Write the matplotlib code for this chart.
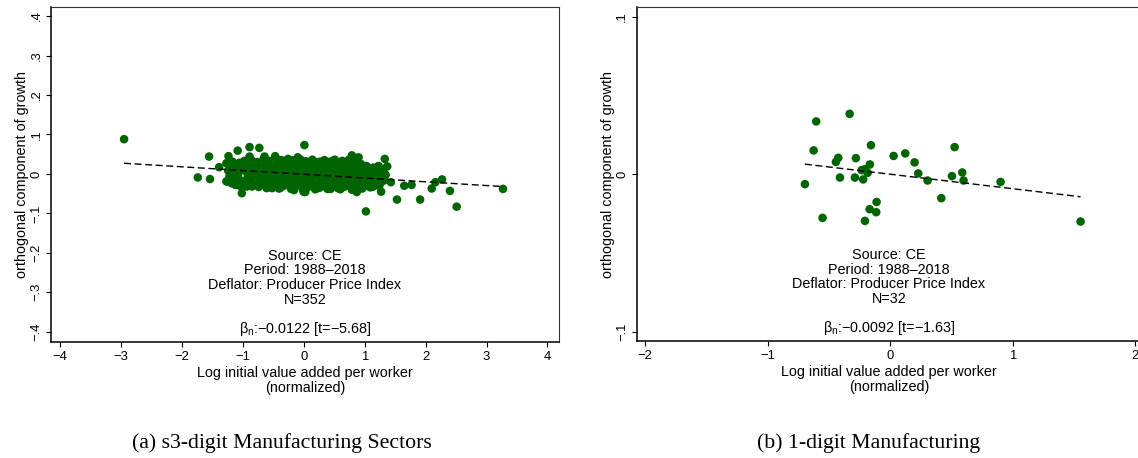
import matplotlib
matplotlib.use("Agg")
import matplotlib.pyplot as plt

plt.rcParams['font.family'] = ['Liberation Sans', 'DejaVu Sans']
plt.rcParams['mathtext.fontset'] = 'custom'
plt.rcParams['mathtext.rm'] = 'Liberation Sans'
plt.rcParams['mathtext.it'] = 'Liberation Sans:italic'

# ---------------- data: panel (a) s3-digit sectors ----------------
outlier_x = [-2.95, 0.01, 3.27, 1.02, 2.51, 2.40, 2.27, 2.16, 2.10, 1.91,
             1.53, 1.77, 1.65, 1.43, 1.33, 1.37, 1.34, 1.27, 0.79, 0.90,
             -1.74, -1.54, -1.555, -1.39, -1.236, -1.085, -0.89, -0.73, -0.89, -0.645,
             -0.47, -1.017, 0.023, -0.16, 0.44, 0.87, -1.27, -1.12, -0.85, -0.52,
             -0.39, -0.005, 0.19, 0.60, 1.09, 1.20, -1.26, -1.19, -0.99, -0.195,
             0.16, 0.27, 0.49, 0.71, 0.92, 1.23, -0.10, 0.51, 1.22]
outlier_y = [0.088, 0.073, -0.038, -0.095, -0.083, -0.043, -0.014, -0.021, -0.037, -0.065,
             -0.065, -0.028, -0.030, -0.021, 0.038, 0.019, -0.002, -0.045, 0.047, 0.042,
             -0.009, -0.013, 0.044, 0.017, 0.045, 0.059, 0.068, 0.066, 0.044, 0.044,
             0.045, -0.049, -0.046, -0.041, -0.038, -0.046, -0.019, -0.028, -0.032, -0.036,
             -0.036, -0.045, -0.039, -0.039, -0.034, -0.028, 0.027, 0.031, 0.031, 0.035,
             0.027, 0.031, 0.034, 0.031, 0.023, 0.014, 0.042, 0.036, 0.019]

cluster_x = [-1.27, -1.24, -1.22, -1.26, -1.21,
             -1.17, -1.13, -1.15, -1.12, -1.18, -1.14,
             -1.06, -1.03, -1.08, -1.02, -1.05, -1.07,
             -0.97, -0.93, -0.95, -0.92, -0.96, -0.94, -0.91,
             -0.86, -0.83, -0.85, -0.82, -0.87, -0.84, -0.81,
             -0.77, -0.73, -0.75, -0.72, -0.76, -0.74, -0.71,
             -0.66, -0.63, -0.65, -0.62, -0.67, -0.64, -0.61,
             -0.57, -0.53, -0.55, -0.52, -0.56, -0.54, -0.51,
             -0.46, -0.43, -0.45, -0.42, -0.47, -0.44, -0.41,
             -0.37, -0.33, -0.35, -0.32, -0.36, -0.34, -0.31,
             -0.26, -0.23, -0.25, -0.22, -0.27, -0.24, -0.21,
             -0.17, -0.13, -0.15, -0.12, -0.16, -0.14, -0.11,
             -0.06, -0.03, -0.05, -0.02, -0.07, -0.04, -0.01,
             0.03, 0.07, 0.05, 0.08, 0.04, 0.06, 0.09,
             0.14, 0.17, 0.15, 0.18, 0.13, 0.16, 0.19,
             0.23, 0.27, 0.25, 0.28, 0.24, 0.26, 0.29,
             0.34, 0.37, 0.35, 0.38, 0.33, 0.36, 0.39,
             0.43, 0.47, 0.45, 0.48, 0.44, 0.46, 0.49,
             0.54, 0.57, 0.55, 0.58, 0.53, 0.56, 0.59,
             0.63, 0.67, 0.65, 0.68, 0.64, 0.66, 0.69,
             0.74, 0.77, 0.75, 0.78, 0.73, 0.76, 0.79,
             0.83, 0.87, 0.85, 0.88, 0.84, 0.86, 0.89,
             0.94, 0.97, 0.95, 0.98, 0.93, 0.96, 0.99,
             1.03, 1.07, 1.05, 1.08, 1.04, 1.06,
             1.14, 1.17, 1.15, 1.18, 1.13,
             1.23, 1.27, 1.25, 1.28, 1.24,
             1.31, 1.34, 1.32]
cluster_y = [0.027, 0.008, -0.006, -0.019, 0.018,
             0.031, 0.015, 0.002, -0.012, -0.024, 0.022,
             0.028, 0.012, -0.004, -0.018, -0.030, 0.005,
             0.033, 0.020, 0.006, -0.008, -0.022, -0.032, 0.013,
             0.035, 0.024, 0.010, -0.004, -0.017, -0.029, 0.000,
             0.030, 0.018, 0.004, -0.010, -0.023, -0.033, 0.012,
             0.038, 0.025, 0.011, -0.003, -0.016, -0.028, -0.036,
             0.033, 0.020, 0.007, -0.007, -0.020, -0.032, 0.000,
             0.040, 0.027, 0.013, 0.000, -0.014, -0.026, -0.037,
             0.035, 0.022, 0.008, -0.006, -0.019, -0.031, 0.015,
             0.038, 0.025, 0.011, -0.003, -0.017, -0.029, -0.038,
             0.034, 0.020, 0.006, -0.008, -0.021, -0.033, 0.000,
             0.037, 0.024, 0.010, -0.004, -0.018, -0.030, -0.040,
             0.032, 0.019, 0.005, -0.009, -0.022, -0.034, 0.012,
             0.036, 0.023, 0.009, -0.005, -0.019, -0.031, -0.038,
             0.030, 0.017, 0.003, -0.011, -0.024, -0.035, 0.010,
             0.035, 0.021, 0.007, -0.007, -0.020, -0.032, -0.038,
             0.031, 0.018, 0.004, -0.010, -0.023, -0.034, 0.011,
             0.026, 0.013, -0.001, -0.014, -0.026, -0.036, 0.006,
             0.033, 0.019, 0.005, -0.009, -0.022, -0.033, -0.015,
             0.036, 0.022, 0.008, -0.006, -0.019, -0.031, -0.040,
             0.030, 0.016, 0.002, -0.012, -0.025, -0.036, 0.009,
             0.025, 0.012, -0.002, -0.015, -0.027, -0.037, 0.003,
             0.020, 0.007, -0.006, -0.018, -0.030, 0.013,
             0.016, 0.003, -0.010, -0.022, -0.033,
             0.020, 0.006, -0.008, -0.020, -0.030,
             0.012, -0.003, -0.016]

fit_a = (-0.0010, -0.0095)   # intercept, slope of dashed fit line (a)

# ---------------- data: panel (b) 1-digit manufacturing ----------------
manuf_x = [-0.697, -0.605, -0.626, -0.553, -0.332, -0.444, -0.425, -0.411,
           -0.281, -0.289, -0.221, -0.234, -0.207, -0.185, -0.167, -0.158,
           -0.112, -0.169, -0.115, -0.207, 0.027, 0.122, 0.198, 0.228,
           0.304, 0.416, 0.503, 0.525, 0.587, 0.598, 0.900, 1.553]
manuf_y = [-0.0062, 0.0336, 0.0152, -0.0276, 0.0384, 0.0079, 0.0105, -0.0020,
           0.0103, -0.0020, -0.0032, 0.0027, 0.0033, 0.0010, 0.0063, 0.0185,
           -0.0175, -0.0221, -0.0240, -0.0295, 0.0117, 0.0133, 0.0076, 0.0006,
           -0.0039, -0.0151, -0.0011, 0.0173, 0.0012, -0.0039, -0.0048, -0.0299]

fit_b = (0.0001, -0.0092)

# ---------------- axis / text content ----------------
a_xticks = [-4, -3, -2, -1, 0, 1, 2, 3, 4]
a_xticklabels = ['\u22124', '\u22123', '\u22122', '\u22121', '0', '1', '2', '3', '4']
a_yticks = [-0.4, -0.3, -0.2, -0.1, 0, 0.1, 0.2, 0.3, 0.4]
a_yticklabels = ['\u2212.4', '\u2212.3', '\u2212.2', '\u2212.1', '0', '.1', '.2', '.3', '.4']
b_xticks = [-2, -1, 0, 1, 2]
b_xticklabels = ['\u22122', '\u22121', '0', '1', '2']
b_yticks = [-0.1, 0, 0.1]
b_yticklabels = ['\u2212.1', '0', '.1']

xlabel = 'Log initial value added per worker\n(normalized)'
ylabel = 'orthogonal component of growth'
info_a = ['Source: CE', 'Period: 1988\u20132018', 'Deflator: Producer Price Index', 'N=352']
info_b = ['Source: CE', 'Period: 1988\u20132018', 'Deflator: Producer Price Index', 'N=32']
beta_a = '\u03b2$_\\mathregular{n}$:\u22120.0122 [t=\u22125.68]'
beta_b = '\u03b2$_\\mathregular{n}$:\u22120.0092 [t=\u22121.63]'
caption_a = '(a) s3-digit Manufacturing Sectors'
caption_b = '(b) 1-digit Manufacturing'

GREEN = '#006400'
W, H = 1138, 458
FS = 10.4      # titles / notes
TFS = 9.4      # tick labels

fig = plt.figure(figsize=(W / 100, H / 100), dpi=100)
ax1 = fig.add_axes([51 / W, (H - 342) / H, 508 / W, 335 / H])
ax2 = fig.add_axes([636.7 / W, (H - 341) / H, 504.3 / W, 333.7 / H])


def draw(ax, xs, ys, fit, xlim, ylim, xt, xtl, yt, ytl, info, beta):
    ax.scatter(xs, ys, s=38, color=GREEN, edgecolors='none', zorder=2)
    x0, x1 = min(xs), max(xs)
    ax.plot([x0, x1], [fit[0] + fit[1] * x0, fit[0] + fit[1] * x1],
            color='black', lw=1.0, dashes=(5.0, 2.6), zorder=3)
    ax.set_xlim(*xlim)
    ax.set_ylim(*ylim)
    ax.set_xticks(xt)
    ax.set_xticklabels(xtl, fontsize=TFS)
    ax.set_yticks(yt)
    ax.set_yticklabels(ytl, fontsize=TFS, rotation=90, va='center')
    ax.tick_params(direction='out', length=3.8, width=0.8, pad=2.6, colors='black')
    ax.tick_params(axis='y', pad=2.4)
    ax.set_xlabel(xlabel, fontsize=FS, labelpad=2, linespacing=1.15)
    ax.set_ylabel(ylabel, fontsize=FS, labelpad=1)
    for s in ['left', 'bottom']:
        ax.spines[s].set_linewidth(1.1)
        ax.spines[s].set_color('black')
    for s in ['top', 'right']:
        ax.spines[s].set_linewidth(0.8)
        ax.spines[s].set_color('#333333')
    for i, t in enumerate(info):
        ax.text(0.5, 0.257 - i * 0.0435, t, transform=ax.transAxes,
                ha='center', va='center', fontsize=FS)
    ax.text(0.5, 0.038, beta, transform=ax.transAxes, ha='center', va='center', fontsize=FS)


draw(ax1, outlier_x + cluster_x, outlier_y + cluster_y, fit_a, (-4.15, 4.19), (-0.426, 0.423),
     a_xticks, a_xticklabels, a_yticks, a_yticklabels, info_a, beta_a)
draw(ax2, manuf_x, manuf_y, fit_b, (-2.07, 2.046), (-0.1057, 0.106),
     b_xticks, b_xticklabels, b_yticks, b_yticklabels, info_b, beta_b)

fig.text(282 / W, 1 - 443 / H, caption_a, family='Liberation Serif', fontsize=15.7,
         ha='center', va='center')
fig.text(869 / W, 1 - 443 / H, caption_b, family='Liberation Serif', fontsize=15.7,
         ha='center', va='center')

fig.savefig('out.png', dpi=100)
